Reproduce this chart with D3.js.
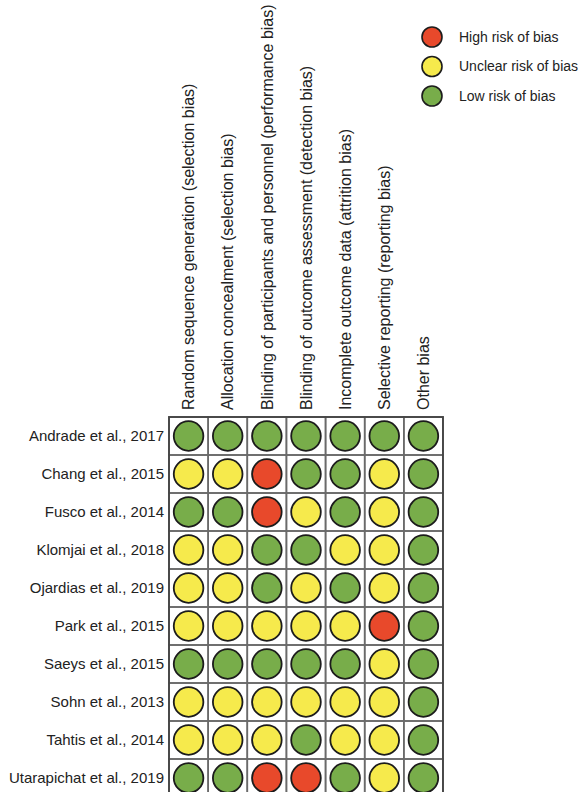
<!DOCTYPE html>
<html>
<head>
<meta charset="utf-8">
<script src="https://d3js.org/d3.v7.min.js"></script>
<style>
    body { margin: 0; background: #fff; }
    text { font-family: "Liberation Sans", Arial, Helvetica, sans-serif; fill: #222; }
</style>
</head>
<body>
<div id="chart-area"></div>
<script>

// domains (columns of the risk of bias table)
var domains = [
    "Random sequence generation (selection bias)",
    "Allocation concealment (selection bias)",
    "Blinding of participants and personnel (performance bias)",
    "Blinding of outcome assessment (detection bias)",
    "Incomplete outcome data (attrition bias)",
    "Selective reporting (reporting bias)",
    "Other bias"
];

var studies = [
    "Andrade et al., 2017",
    "Chang et al., 2015",
    "Fusco et al., 2014",
    "Klomjai et al., 2018",
    "Ojardias et al., 2019",
    "Park et al., 2015",
    "Saeys et al., 2015",
    "Sohn et al., 2013",
    "Tahtis et al., 2014",
    "Utarapichat et al., 2019"
];

// one string per study, one letter per domain: L = low, U = unclear, H = high
var judgements = [
    "LLLLLLL",
    "UUHLLUL",
    "LLHULUL",
    "UULLUUL",
    "UULULUL",
    "UUUUUHL",
    "LLLLLUL",
    "UUUUUUL",
    "UUULUUL",
    "LLHHLUL"
];

var legendKeys = ["H", "U", "L"];
var legendLabels = ["High risk of bias", "Unclear risk of bias", "Low risk of bias"];


var svg = d3.select("#chart-area").append("svg")
    .attr("width", 581)
    .attr("height", 792);

var color = d3.scaleOrdinal()
    .domain(["H", "U", "L"])
    .range(["#e8492b", "#f6ea4c", "#78ad4a"]);

// grid area
var grid = {left: 169, top: 417, colStep: 39.14, rowStep: 38};

var x = d3.scaleBand()
    .domain(domains)
    .range([grid.left, grid.left + grid.colStep * domains.length]);

var y = d3.scaleBand()
    .domain(studies)
    .range([grid.top, grid.top + grid.rowStep * studies.length]);

var cells = [];
studies.forEach(function(s, i) {
    domains.forEach(function(d, j) {
        cells.push({study: s, domain: d, value: judgements[i][j]});
    });
});

// cell borders
svg.append("g").selectAll("rect")
    .data(cells)
    .enter()
    .append("rect")
    .attr("x", d => x(d.domain))
    .attr("y", d => y(d.study))
    .attr("width", x.bandwidth())
    .attr("height", y.bandwidth())
    .attr("fill", "none")
    .attr("stroke", "#6a6a6a")
    .attr("stroke-width", 1.6);

svg.append("rect")
    .attr("x", x.range()[0])
    .attr("y", y.range()[0])
    .attr("width", x.range()[1] - x.range()[0])
    .attr("height", y.range()[1] - y.range()[0])
    .attr("fill", "none")
    .attr("stroke", "#444")
    .attr("stroke-width", 1.8);

// judgement circles
svg.append("g").selectAll("circle")
    .data(cells)
    .enter()
    .append("circle")
    .attr("cx", d => x(d.domain) + x.bandwidth() / 2)
    .attr("cy", d => y(d.study) + y.bandwidth() / 2)
    .attr("r", 14.8)
    .attr("fill", d => color(d.value))
    .attr("stroke", "#1c1c1c")
    .attr("stroke-width", 1.8);

// rotated column headers
svg.append("g").selectAll("text")
    .data(domains)
    .enter()
    .append("text")
    .attr("transform", d => "translate(" + (x(d) + x.bandwidth() / 2) + "," + (grid.top - 7) + ") rotate(-90)")
    .attr("dy", "0.36em")
    .style("font-size", "16px")
    .text(d => d);

// study labels
svg.append("g").selectAll("text")
    .data(studies)
    .enter()
    .append("text")
    .attr("x", 164)
    .attr("y", d => y(d) + y.bandwidth() / 2)
    .attr("dy", "0.35em")
    .attr("text-anchor", "end")
    .style("font-size", "15px")
    .text(d => d);

// legend
var legend = svg.append("g").selectAll("g")
    .data(legendKeys)
    .enter()
    .append("g")
    .attr("transform", (d, i) => "translate(432," + (37 + i * 29.5) + ")");

legend.append("circle")
    .attr("r", 10)
    .attr("fill", d => color(d))
    .attr("stroke", "#1c1c1c")
    .attr("stroke-width", 1.6);

legend.append("text")
    .attr("x", 27)
    .attr("dy", "0.35em")
    .style("font-size", "14px")
    .text((d, i) => legendLabels[i]);

</script>
</body>
</html>
